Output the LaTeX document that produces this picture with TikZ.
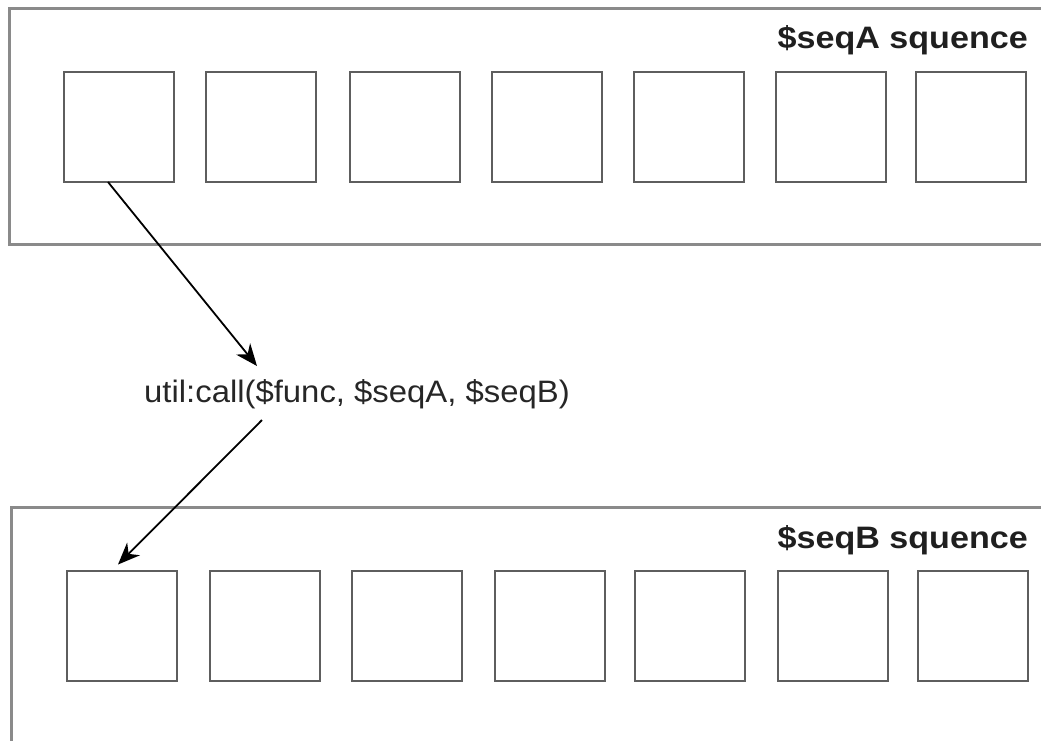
\documentclass[tikz,border=0pt]{standalone}
\usepackage{fontspec}
\setmainfont{Liberation Sans}
\newfontfamily\titlefont[FakeStretch=1.1]{Liberation Sans}
\newfontfamily\lblfont[FakeStretch=1.06]{Liberation Sans}
\usetikzlibrary{arrows.meta}
\definecolor{boxgray}{HTML}{8A8A8A}
\definecolor{cellgray}{HTML}{5E5E5E}
\begin{document}
\begin{tikzpicture}[x=1pt,y=-1pt,
  container/.style={draw=boxgray,line width=3pt},
  cell/.style={draw=cellgray,line width=2pt,minimum width=110pt,minimum height=110pt,inner sep=0pt,outer sep=0pt},
  title/.style={font=\titlefont\fontsize{31}{37}\selectfont\bfseries,inner sep=0pt,anchor=base east,text=black!88},
  label/.style={font=\lblfont\fontsize{31}{37}\selectfont,inner sep=0pt,anchor=base west,text=black!85},
  conn/.style={line width=1.8pt,-{Stealth[length=22pt,width=18pt,inset=7pt]}}
]
\useasboundingbox (0,0) rectangle (1041,740);
\clip (0,0) rectangle (1041,740);
% containers
\draw[container] (1060,8) -- (9,8) -- (9,244) -- (1060,244);
\draw[container] (1060,507) -- (11,507) -- (11,760);
\node[title] (ta) at (1028,48) {\$seqA squence};
\node[title] (tb) at (1028,548) {\$seqB squence};
% top row
\foreach \i/\x in {1/119,2/261,3/404.5,4/547,5/688.5,6/830.5,7/971}
  \node[cell] (a\i) at (\x,127) {};
% bottom row
\foreach \i/\x in {1/122,2/264.5,3/406.5,4/549.5,5/690,6/832.5,7/973}
  \node[cell] (b\i) at (\x,625.5) {};
% label
\node[label] (call) at (144,402) {util:call(\$func, \$seqA, \$seqB)};
\coordinate (tipA) at (257,366);
\coordinate (startB) at (262,420);
\draw[conn] ([xshift=-11pt]a1.south) -- (tipA);
\draw[conn] (startB) -- ([xshift=-4pt,yshift=6pt]b1.north);
\end{tikzpicture}
\end{document}
